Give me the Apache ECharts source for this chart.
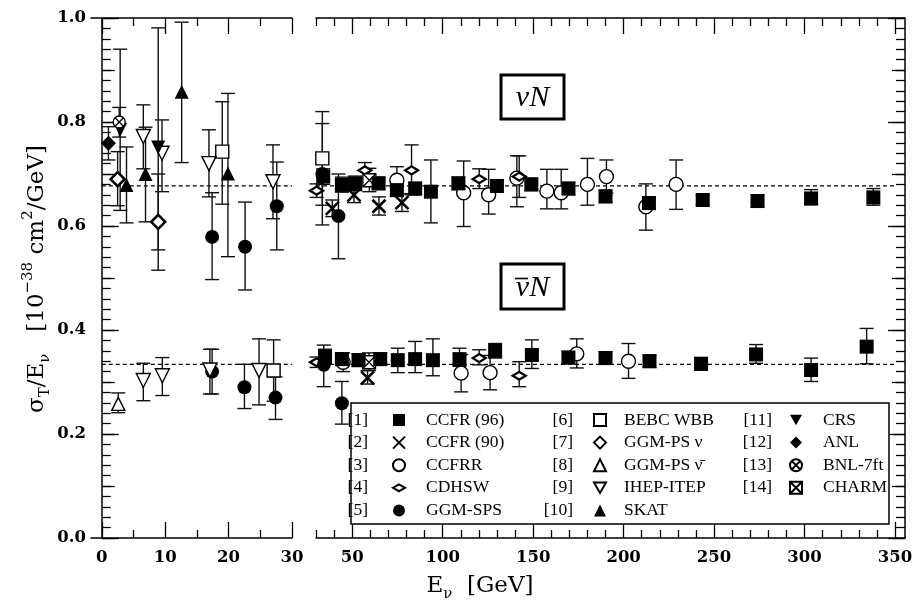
<!DOCTYPE html>
<html>
<head>
<meta charset="utf-8">
<title>sigma_T / E_nu</title>
<script src="https://cdn.jsdelivr.net/npm/echarts@6.0.0/dist/echarts.min.js"></script>
<style>
  html, body { margin: 0; padding: 0; background: #fff; }
  #chart { width: 924px; height: 603px; }
</style>
</head>
<body>
<div id="chart"></div>
<script>
// 每个点: [E (GeV), σ/E, 误差下限, 误差上限]
const ccfr96Nu = [
  [34, 0.695, 0.680, 0.710], [44.3, 0.679, 0.665, 0.694], [51.7, 0.682, 0.668, 0.696],
  [64.6, 0.682, 0.670, 0.694], [74.7, 0.669, 0.657, 0.681], [84.8, 0.672, 0.660, 0.684],
  [93.5, 0.666, 0.606, 0.727], [108.7, 0.682, 0.670, 0.694], [130, 0.677, 0.665, 0.689],
  [149, 0.680, 0.668, 0.692], [169.5, 0.672, 0.660, 0.684], [190, 0.657, 0.645, 0.669],
  [214, 0.644, 0.632, 0.656], [243.7, 0.650, 0.640, 0.660], [274, 0.648, 0.636, 0.660],
  [303.6, 0.653, 0.641, 0.670], [338, 0.655, 0.640, 0.672]
];
const ccfr96NuBar = [
  [35, 0.349, 0.335, 0.363], [44.3, 0.344, 0.332, 0.356], [53.5, 0.342, 0.330, 0.354],
  [65.5, 0.344, 0.332, 0.356], [75.2, 0.342, 0.318, 0.365], [84.8, 0.344, 0.318, 0.378],
  [94.6, 0.342, 0.312, 0.383], [109.3, 0.344, 0.330, 0.365], [129, 0.360, 0.346, 0.374],
  [149.3, 0.352, 0.326, 0.381], [169.5, 0.347, 0.335, 0.359], [190, 0.346, 0.334, 0.358],
  [214.3, 0.340, 0.328, 0.352], [242.8, 0.335, 0.323, 0.347], [273.2, 0.353, 0.336, 0.372],
  [303.6, 0.323, 0.301, 0.346], [334.3, 0.368, 0.335, 0.403]
];
const ccfr90Nu = [[39, 0.634, 0.618, 0.650], [51, 0.660, 0.645, 0.676], [64.8, 0.638, 0.621, 0.656], [77.5, 0.645, 0.628, 0.662]];
const ccfr90NuBar = [[58.5, 0.308, 0.296, 0.322]];
const ccfrrNu = [
  [74.7, 0.688, 0.660, 0.714], [111.6, 0.664, 0.599, 0.725], [125.4, 0.660, 0.623, 0.709],
  [141, 0.692, 0.637, 0.735], [157.6, 0.667, 0.633, 0.709], [165.5, 0.664, 0.633, 0.709],
  [180, 0.680, 0.640, 0.730], [190.5, 0.695, 0.663, 0.727], [212.3, 0.637, 0.592, 0.681],
  [229, 0.680, 0.632, 0.727]
];
const ccfrrNuBar = [[45, 0.338, 0.320, 0.356], [110.2, 0.317, 0.281, 0.353], [126.2, 0.318, 0.285, 0.351], [174.1, 0.354, 0.327, 0.383], [202.7, 0.340, 0.307, 0.374]];
const cdhswNu = [[30.3, 0.668, 0.655, 0.681], [57, 0.707, 0.692, 0.722], [82.8, 0.707, 0.660, 0.756], [120.2, 0.690, 0.672, 0.710], [142.3, 0.695, 0.655, 0.735]];
const cdhswNuBar = [[30.3, 0.338, 0.328, 0.348], [120.2, 0.346, 0.333, 0.362], [142.3, 0.312, 0.291, 0.339]];
const ggmSpsNu = [[17.4, 0.579, 0.497, 0.664], [22.6, 0.560, 0.477, 0.646], [27.6, 0.638, 0.554, 0.723], [33.5, 0.700, 0.602, 0.797], [42.4, 0.619, 0.537, 0.700]];
const ggmSpsNuBar = [[17.4, 0.320, 0.277, 0.363], [22.5, 0.290, 0.249, 0.334], [27.4, 0.270, 0.228, 0.310], [34.3, 0.333, 0.291, 0.371], [44.3, 0.259, 0.219, 0.301]];
const bebcNu = [[19.0, 0.743, 0.642, 0.839], [33.5, 0.730, 0.640, 0.820]];
const bebcNuBar = [[27.1, 0.322, 0.263, 0.381]];
const ggmPsNu = [[2.5, 0.690, 0.639, 0.743], [8.9, 0.608, 0.515, 0.700]];
const ggmPsNuBar = [[2.6, 0.258, 0.241, 0.279]];
const ihepNu = [[6.55, 0.772, 0.710, 0.833], [9.5, 0.740, 0.666, 0.804], [16.9, 0.720, 0.656, 0.785], [27.0, 0.685, 0.614, 0.756]];
const ihepNuBar = [[6.55, 0.303, 0.264, 0.336], [9.55, 0.312, 0.274, 0.347], [17.05, 0.323, 0.277, 0.363], [24.8, 0.322, 0.256, 0.383]];
const skatNu = [[3.9, 0.679, 0.606, 0.752], [6.9, 0.700, 0.608, 0.790], [12.6, 0.858, 0.722, 0.992], [19.9, 0.701, 0.541, 0.855]];
const crsNu = [[2.9, 0.785, 0.630, 0.940], [8.9, 0.751, 0.554, 0.981]];
const anlNu = [[1.05, 0.759, 0.727, 0.791]];
const bnlNu = [[2.75, 0.800, 0.771, 0.828]];
const charmNu = [[59.5, 0.688, 0.666, 0.711]];
const charmNuBar = [[59.3, 0.338, 0.322, 0.356]];

// 世界平均 (虚线)
const worldAvg = [0.677, 0.334];

// 刻度
const leftTicks = [0, 10, 20, 30];
const leftMinorTicks = [5, 15, 25];
const rightTicks = [50, 100, 150, 200, 250, 300, 350];
const rightMinorTicks = [30, 40, 60, 70, 80, 90, 110, 120, 130, 140, 160, 170, 180, 190,
  210, 220, 230, 240, 260, 270, 280, 290, 310, 320, 330, 340];
const yTicks = [0, 0.2, 0.4, 0.6, 0.8, 1.0];

const SERIF = "'DejaVu Serif', serif";
const TIMES = "'Liberation Serif', serif";

const PATH_DOWN = 'path://M0,0L10,0L5,8.66Z';
const PATH_CROSS = 'path://M0,0L10,10M10,0L0,10';
const PATH_FLAT_DIAMOND = 'path://M0,4L7,0L14,4L7,8Z';
const PATH_OTIMES = 'path://M0,5A5,5,0,1,1,10,5A5,5,0,1,1,0,5ZM1.5,1.5L8.5,8.5M8.5,1.5L1.5,8.5';
const PATH_BOXTIMES = 'path://M0,0L10,0L10,10L0,10ZM0,0L10,10M10,0L0,10';

const experiments = [
  { name: 'CCFR (90)', tag: '[2]', sets: [ccfr90Nu, ccfr90NuBar], symbol: PATH_CROSS, size: 13, color: 'rgba(0,0,0,0)', border: 2.6 },
  { name: 'CCFRR', tag: '[3]', sets: [ccfrrNu, ccfrrNuBar], symbol: 'circle', size: 14, color: '#fff', border: 1.4 },
  { name: 'CDHSW', tag: '[4]', sets: [cdhswNu, cdhswNuBar], symbol: PATH_FLAT_DIAMOND, size: [13, 8], color: '#fff', border: 2.4 },
  { name: 'GGM-SPS', tag: '[5]', sets: [ggmSpsNu, ggmSpsNuBar], symbol: 'circle', size: 14, color: '#000', border: 0 },
  { name: 'BEBC WBB', tag: '[6]', sets: [bebcNu, bebcNuBar], symbol: 'rect', size: 13, color: '#fff', border: 1.4 },
  { name: 'GGM-PS ν', tag: '[7]', sets: [ggmPsNu], symbol: 'diamond', size: 14, color: '#fff', border: 2.6 },
  { name: 'GGM-PS ν̄', tag: '[8]', sets: [ggmPsNuBar], symbol: 'triangle', size: 13, color: '#fff', border: 1.4 },
  { name: 'IHEP-ITEP', tag: '[9]', sets: [ihepNu, ihepNuBar], symbol: PATH_DOWN, size: 14, color: '#fff', border: 1.4 },
  { name: 'SKAT', tag: '[10]', sets: [skatNu], symbol: 'triangle', size: 14, color: '#000', border: 0 },
  { name: 'CRS', tag: '[11]', sets: [crsNu], symbol: PATH_DOWN, size: 14, color: '#000', border: 0 },
  { name: 'ANL', tag: '[12]', sets: [anlNu], symbol: 'diamond', size: 15, color: '#000', border: 0 },
  { name: 'BNL-7ft', tag: '[13]', sets: [bnlNu], symbol: PATH_OTIMES, size: 12, color: '#fff', border: 1.3 },
  { name: 'CHARM', tag: '[14]', sets: [charmNu, charmNuBar], symbol: PATH_BOXTIMES, size: 13, color: '#fff', border: 1.3 },
  // CCFR (96) 画在最上层
  { name: 'CCFR (96)', tag: '[1]', sets: [ccfr96Nu, ccfr96NuBar], symbol: 'rect', size: 14, color: '#000', border: 0 }
];

const legendCols = [
  { names: ['CCFR (96)', 'CCFR (90)', 'CCFRR', 'CDHSW', 'GGM-SPS'], icon: 398, text: 425, tagRight: 368 },
  { names: ['BEBC WBB', 'GGM-PS ν', 'GGM-PS ν̄', 'IHEP-ITEP', 'SKAT'], icon: 599, text: 623, tagRight: 573 },
  { names: ['CRS', 'ANL', 'BNL-7ft', 'CHARM'], icon: 795, text: 822, tagRight: 772 }
];
const rowTop = 420;
const rowStep = 22.6;
const legendLine = 18;

// 误差棒
function renderErrorBar(params, api) {
  const x = api.value(0);
  const lo = api.coord([x, api.value(2)]);
  const hi = api.coord([x, api.value(3)]);
  const half = 7;
  const style = { stroke: '#111', lineWidth: 1.4 };
  return {
    type: 'group',
    children: [
      { type: 'line', shape: { x1: lo[0], y1: lo[1], x2: hi[0], y2: hi[1] }, style },
      { type: 'line', shape: { x1: lo[0] - half, y1: lo[1], x2: lo[0] + half, y2: lo[1] }, style },
      { type: 'line', shape: { x1: hi[0] - half, y1: hi[1], x2: hi[0] + half, y2: hi[1] }, style }
    ]
  };
}

const panels = [
  { xAxisIndex: 0, yAxisIndex: 0, test: e => e < 30, from: 0, to: 30 },
  { xAxisIndex: 4, yAxisIndex: 2, test: e => e >= 30, from: 30, to: 350 }
];

const errSeries = [];
const pointSeries = [];
experiments.forEach(exp => {
  const pts = [].concat(...exp.sets);
  panels.forEach(p => {
    const sub = pts.filter(d => p.test(d[0]));
    if (!sub.length) return;
    errSeries.push({
      type: 'custom', name: exp.name + ' err', xAxisIndex: p.xAxisIndex, yAxisIndex: p.yAxisIndex,
      renderItem: renderErrorBar, data: sub, encode: { x: 0, y: 1 }, z: 2, silent: true
    });
    pointSeries.push({
      type: 'scatter', name: exp.name, xAxisIndex: p.xAxisIndex, yAxisIndex: p.yAxisIndex,
      data: sub.map(d => [d[0], d[1]]), symbol: exp.symbol, symbolSize: exp.size, z: 3, silent: true,
      itemStyle: { color: exp.color, borderColor: '#000', borderWidth: exp.border, opacity: 1 }
    });
  });
});

const avgSeries = [];
panels.forEach(p => {
  worldAvg.forEach(v => {
    avgSeries.push({
      type: 'line', xAxisIndex: p.xAxisIndex, yAxisIndex: p.yAxisIndex,
      data: [[p.from, v], [p.to, v]], symbol: 'none', silent: true, z: 1,
      lineStyle: { color: '#000', width: 1.2, type: [4, 3] }
    });
  });
});

const tickLine = { color: '#000', width: 1.3 };
const frameLine = { show: true, lineStyle: { color: '#000', width: 1.5 } };
const noLine = { show: false };
const tickFont = { fontFamily: SERIF, fontWeight: 'bold', fontSize: 16.5, color: '#000' };

function xAx(grid, pos, min, max, values, len, labels, line) {
  return {
    type: 'value', gridIndex: grid, position: pos, min, max,
    axisLine: line ? frameLine : noLine,
    axisTick: { show: true, inside: true, length: len, customValues: values, lineStyle: tickLine },
    axisLabel: labels ? Object.assign({ customValues: values, margin: 11 }, tickFont) : { show: false },
    splitLine: { show: false }
  };
}

function yAx(grid, pos, interval, len, labels, line, minor) {
  return {
    type: 'value', gridIndex: grid, position: pos, min: 0, max: 1, interval,
    axisLine: line ? frameLine : noLine,
    axisTick: { show: true, inside: true, length: len, lineStyle: tickLine },
    minorTick: minor ? { show: true, splitNumber: 10, length: 9, lineStyle: tickLine } : { show: false },
    axisLabel: labels ? Object.assign({ customValues: yTicks, margin: 5, formatter: v => v.toFixed(1) }, tickFont) : { show: false },
    splitLine: { show: false }, minorSplitLine: { show: false }
  };
}

const titleRich = {
  m: { fontFamily: SERIF, fontSize: 23, lineHeight: 32, verticalAlign: 'middle' },
  s: { fontFamily: SERIF, fontSize: 15, lineHeight: 15, verticalAlign: 'bottom' },
  p: { fontFamily: SERIF, fontSize: 15, lineHeight: 15, verticalAlign: 'top' }
};

const graphics = [
  // 图例框
  { type: 'rect', shape: { x: 351, y: 403, width: 538, height: 121 }, style: { fill: '#fff', stroke: '#000', lineWidth: 1.5 }, z: 100 },
  // νN 标签
  { type: 'rect', shape: { x: 501, y: 75, width: 63, height: 44 }, style: { fill: '#fff', stroke: '#000', lineWidth: 3 }, z: 100 },
  { type: 'text', x: 532.5, y: 98, z: 101, style: { text: 'νN', fontFamily: TIMES, fontStyle: 'italic', fontSize: 30, fill: '#000', align: 'center', verticalAlign: 'middle' } },
  { type: 'rect', shape: { x: 501, y: 264, width: 63, height: 45 }, style: { fill: '#fff', stroke: '#000', lineWidth: 3 }, z: 100 },
  { type: 'text', x: 532.5, y: 288, z: 101, style: { text: 'νN', fontFamily: TIMES, fontStyle: 'italic', fontSize: 30, fill: '#000', align: 'center', verticalAlign: 'middle' } },
  // ν 上的横线
  { type: 'line', shape: { x1: 515, y1: 278.5, x2: 528, y2: 278.5 }, style: { stroke: '#000', lineWidth: 1.6 }, z: 101 },
  // y 轴标题
  {
    type: 'text', x: 37, y: 279, rotation: Math.PI / 2, z: 101,
    style: {
      text: '{m|σ}{s|T}{m|/E}{s|ν}{m|   [10}{p|−38}{m| cm}{p|2}{m|/GeV]}',
      fill: '#000', align: 'center', verticalAlign: 'middle', rich: titleRich
    }
  },
  // x 轴标题
  {
    type: 'text', x: 480, y: 586, z: 101,
    style: {
      text: '{m|E}{s|ν}{m|  [GeV]}',
      fill: '#000', align: 'center', verticalAlign: 'middle', rich: titleRich
    }
  }
];

// 图例编号 [n]
legendCols.forEach(col => {
  col.names.forEach((name, i) => {
    const exp = experiments.find(e => e.name === name);
    graphics.push({
      type: 'text', x: col.tagRight, y: rowTop + i * rowStep, z: 101,
      style: { text: exp.tag, fontFamily: TIMES, fontSize: 17.5, fill: '#000', align: 'right', verticalAlign: 'middle' }
    });
  });
});

const legends = legendCols.map(col => ({
  orient: 'vertical', left: col.icon - 6, top: rowTop - legendLine / 2, padding: 0,
  itemWidth: 12, itemHeight: 12, itemGap: rowStep - legendLine,
  data: col.names, selectedMode: false, z: 110,
  textStyle: {
    fontFamily: TIMES, fontSize: 17.5, color: '#000', lineHeight: legendLine,
    padding: [0, 0, 0, col.text - (col.icon + 6) - 5]
  }
}));

const chart = echarts.init(document.getElementById('chart'));
chart.setOption({
  backgroundColor: '#fff',
  animation: false,
  grid: [
    { left: 91, top: 18, width: 201, height: 520 },
    { left: 316, top: 18, width: 589, height: 520 }
  ],
  xAxis: [
    xAx(0, 'bottom', -1.7, 30, leftTicks, 16, true, true),
    xAx(0, 'bottom', -1.7, 30, leftMinorTicks, 8, false, false),
    xAx(0, 'top', -1.7, 30, leftTicks, 16, false, true),
    xAx(0, 'top', -1.7, 30, leftMinorTicks, 8, false, false),
    xAx(1, 'bottom', 30, 355.5, rightTicks, 16, true, true),
    xAx(1, 'bottom', 30, 355.5, rightMinorTicks, 8, false, false),
    xAx(1, 'top', 30, 355.5, rightTicks, 16, false, true),
    xAx(1, 'top', 30, 355.5, rightMinorTicks, 8, false, false)
  ],
  yAxis: [
    yAx(0, 'left', 0.2, 17, true, true, true),
    yAx(0, 'left', 0.1, 13, false, false, false),
    yAx(1, 'right', 0.2, 17, false, true, true),
    yAx(1, 'right', 0.1, 13, false, false, false)
  ],
  legend: legends,
  graphic: { elements: graphics },
  series: avgSeries.concat(errSeries, pointSeries)
});
</script>
</body>
</html>
